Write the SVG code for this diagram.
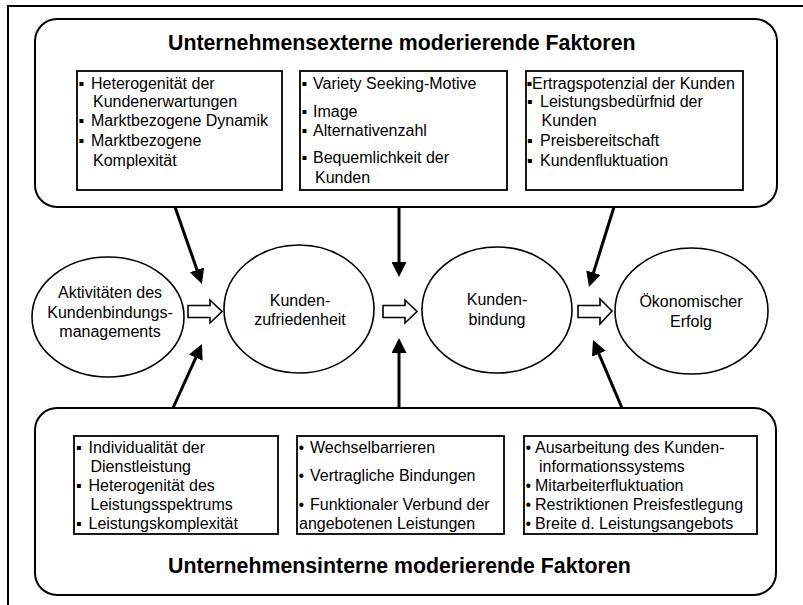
<svg xmlns="http://www.w3.org/2000/svg" width="803" height="605" viewBox="0 0 803 605">
<style>
text{font-family:"Liberation Sans",Arial,sans-serif;fill:#000}
.t{font-size:21.3px;font-weight:bold}
.l{font-size:16px}
.c{font-size:16px;text-anchor:middle}
.frame{fill:none;stroke:#000;stroke-width:2}
.grp{fill:#fff;stroke:#000;stroke-width:2}
.box{fill:#fff;stroke:#000;stroke-width:1.8}
.ell{fill:#fff;stroke:#000;stroke-width:1.6}
.blk{stroke:#000;stroke-width:3;fill:none}
.hol{fill:#fff;stroke:#000;stroke-width:1.6}
</style>
<defs>
<marker id="ah" viewBox="0 0 10 10" refX="1" refY="5" markerWidth="5" markerHeight="5" orient="auto" markerUnits="strokeWidth"><path d="M0,0 L10,5 L0,10 z" fill="#000"/></marker>
</defs>
<rect class="frame" x="8" y="6" width="806" height="620"/>

<g id="extern">
<rect class="grp" x="35" y="19" width="742" height="188" rx="22" ry="22"/>
<text class="t" x="168" y="50">Unternehmensexterne moderierende Faktoren</text>
<g id="ext1">
<rect class="box" x="77" y="71" width="205" height="119"/>
<text class="l"><tspan x="78.5" y="89">▪</tspan><tspan x="91" y="89">Heterogenität der</tspan></text>
<text class="l" x="93" y="107">Kundenerwartungen</text>
<text class="l"><tspan x="78.5" y="126">▪</tspan><tspan x="91" y="126">Marktbezogene Dynamik</tspan></text>
<text class="l"><tspan x="78.5" y="146">▪</tspan><tspan x="91" y="146">Marktbezogene</tspan></text>
<text class="l" x="93" y="166">Komplexität</text>
</g>
<g id="ext2">
<rect class="box" x="300" y="71" width="207" height="119"/>
<text class="l"><tspan x="301.5" y="89">▪</tspan><tspan x="313" y="89">Variety Seeking-Motive</tspan></text>
<text class="l"><tspan x="301.5" y="116.5">▪</tspan><tspan x="313" y="116.5">Image</tspan></text>
<text class="l"><tspan x="301.5" y="136">▪</tspan><tspan x="313" y="136">Alternativenzahl</tspan></text>
<text class="l"><tspan x="301.5" y="163">▪</tspan><tspan x="313" y="163">Bequemlichkeit der</tspan></text>
<text class="l" x="315" y="182.5">Kunden</text>
</g>
<g id="ext3">
<rect class="box" x="526" y="71" width="217" height="119"/>
<text class="l"><tspan x="526.5" y="88.5">▪</tspan><tspan x="532" y="88.5">Ertragspotenzial der Kunden</tspan></text>
<text class="l"><tspan x="527" y="107">▪</tspan><tspan x="540" y="107">Leistungsbedürfnid der</tspan></text>
<text class="l" x="541.5" y="126">Kunden</text>
<text class="l"><tspan x="527" y="146">▪</tspan><tspan x="540" y="146">Preisbereitschaft</tspan></text>
<text class="l"><tspan x="527" y="166">▪</tspan><tspan x="540" y="166">Kundenfluktuation</tspan></text>
</g>
</g>

<g id="intern">
<rect class="grp" x="35" y="408" width="741" height="187" rx="22" ry="22"/>
<text class="t" x="168" y="572.5">Unternehmensinterne moderierende Faktoren</text>
<g id="int1">
<rect class="box" x="74" y="436" width="204" height="98"/>
<text class="l"><tspan x="76" y="452.5">▪</tspan><tspan x="88.5" y="452.5">Individualität der</tspan></text>
<text class="l" x="90.5" y="471.5">Dienstleistung</text>
<text class="l"><tspan x="76" y="490.5">▪</tspan><tspan x="88.5" y="490.5">Heterogenität des</tspan></text>
<text class="l" x="90.5" y="510">Leistungsspektrums</text>
<text class="l"><tspan x="76" y="529">▪</tspan><tspan x="88.5" y="529">Leistungskomplexität</tspan></text>
</g>
<g id="int2">
<rect class="box" x="297" y="436" width="207" height="98"/>
<text class="l"><tspan x="298.5" y="452.5">•</tspan><tspan x="310" y="452.5">Wechselbarrieren</tspan></text>
<text class="l"><tspan x="298.5" y="480.5">•</tspan><tspan x="310" y="480.5">Vertragliche Bindungen</tspan></text>
<text class="l"><tspan x="298.5" y="510">•</tspan><tspan x="310" y="510">Funktionaler Verbund der</tspan></text>
<text class="l" x="299" y="529">angebotenen Leistungen</text>
</g>
<g id="int3">
<rect class="box" x="524" y="436" width="233" height="98"/>
<text class="l"><tspan x="525.5" y="452.5">•</tspan><tspan x="535" y="452.5">Ausarbeitung des Kunden-</tspan></text>
<text class="l" x="539" y="471.5">informationssystems</text>
<text class="l"><tspan x="525.5" y="490.5">•</tspan><tspan x="535" y="490.5">Mitarbeiterfluktuation</tspan></text>
<text class="l"><tspan x="525.5" y="510">•</tspan><tspan x="535" y="510">Restriktionen Preisfestlegung</tspan></text>
<text class="l"><tspan x="525.5" y="529">•</tspan><tspan x="535" y="529">Breite d. Leistungsangebots</tspan></text>
</g>
</g>

<g id="aktivitaeten">
<ellipse class="ell" cx="108" cy="317" rx="76" ry="60"/>
<text class="c" x="110" y="298">Aktivitäten des</text>
<text class="c" x="110" y="318">Kundenbindungs-</text>
<text class="c" x="110" y="337">managements</text>
</g>
<g id="zufriedenheit">
<ellipse class="ell" cx="299" cy="309" rx="75" ry="64"/>
<text class="c" x="300" y="305.5">Kunden-</text>
<text class="c" x="300" y="325">zufriedenheit</text>
</g>
<g id="bindung">
<ellipse class="ell" cx="497" cy="310" rx="75" ry="63"/>
<text class="c" x="497" y="305">Kunden-</text>
<text class="c" x="497" y="325">bindung</text>
</g>
<g id="erfolg">
<ellipse class="ell" cx="691.5" cy="311" rx="76.5" ry="63"/>
<text class="c" x="691" y="307">Ökonomischer</text>
<text class="c" x="691" y="327">Erfolg</text>
</g>

<g id="connectors">
<polygon class="hol" points="188,305.5 210,305.5 210,300 222,311.5 210,323 210,317.5 188,317.5"/>
<polygon class="hol" points="383,305.5 405,305.5 405,300 417,311.5 405,323 405,317.5 383,317.5"/>
<polygon class="hol" points="578,305.5 600,305.5 600,299 612,311 600,324 600,317.5 578,317.5"/>
<line class="blk" x1="175" y1="207" x2="197.5" y2="271.3" marker-end="url(#ah)"/>
<line class="blk" x1="399" y1="207" x2="399" y2="263.5" marker-end="url(#ah)"/>
<line class="blk" x1="614" y1="207" x2="593" y2="274.1" marker-end="url(#ah)"/>
<line class="blk" x1="173" y1="408" x2="196.4" y2="356.3" marker-end="url(#ah)"/>
<line class="blk" x1="399" y1="408" x2="399" y2="351.5" marker-end="url(#ah)"/>
<line class="blk" x1="622" y1="408" x2="598.3" y2="352.4" marker-end="url(#ah)"/>
</g>
</svg>
